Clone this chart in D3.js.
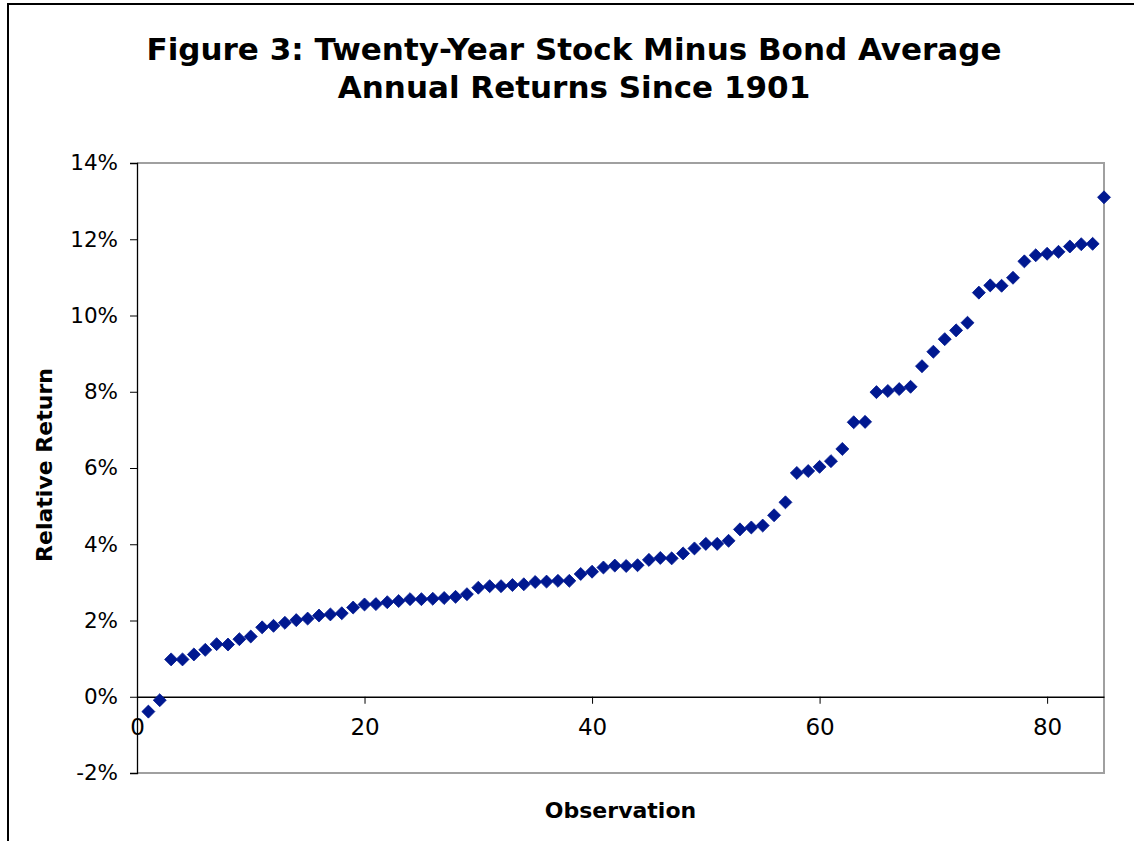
<!DOCTYPE html>
<html>
<head>
<meta charset="utf-8">
<script src="https://cdn.jsdelivr.net/npm/d3@7"></script>
<style>
  html, body { margin: 0; padding: 0; background: #fff; }
  svg { display: block; }
  text { font-family: "DejaVu Sans", Verdana, sans-serif; fill: #000; }
</style>
</head>
<body>
<svg id="chart" width="1134" height="841"></svg>
<script>
// Twenty-year stock minus bond average annual returns, sorted ascending (percent)
const observations = d3.range(1, 86);
const relativeReturn = [
  -0.39, -0.09, 0.98, 0.98, 1.11, 1.23, 1.38, 1.37, 1.51, 1.58,
  1.82, 1.86, 1.94, 2.01, 2.05, 2.13, 2.16, 2.19, 2.34, 2.42,
  2.43, 2.48, 2.51, 2.56, 2.56, 2.57, 2.59, 2.62, 2.69, 2.86,
  2.90, 2.90, 2.93, 2.95, 3.01, 3.02, 3.04, 3.04, 3.22, 3.28,
  3.39, 3.44, 3.43, 3.45, 3.59, 3.64, 3.63, 3.76, 3.89, 4.01,
  4.01, 4.09, 4.39, 4.44, 4.49, 4.76, 5.10, 5.87, 5.92, 6.03,
  6.18, 6.50, 7.20, 7.21, 7.99, 8.02, 8.07, 8.13, 8.67, 9.05,
  9.38, 9.61, 9.81, 10.60, 10.79, 10.78, 10.99, 11.42, 11.58, 11.62,
  11.67, 11.81, 11.87, 11.88, 13.10
];
const xTicks = [0, 20, 40, 60, 80];
const yTicks = [-2, 0, 2, 4, 6, 8, 10, 12, 14];
const titleLines = ["Figure 3: Twenty-Year Stock Minus Bond Average", "Annual Returns Since 1901"];

const svg = d3.select("#chart");
const plot = { left: 137, top: 163, right: 1104, bottom: 773 };

const x = d3.scaleLinear().domain([0, 85]).range([plot.left, plot.right]);
const y = d3.scaleLinear().domain([-2, 14]).range([plot.bottom, plot.top]);

// outer frame (left and top edges)
svg.append("rect")
  .attr("x", 8).attr("y", 4).attr("width", 1300).attr("height", 1000)
  .attr("fill", "none").attr("stroke", "#000").attr("stroke-width", 2);

// title
svg.append("g").selectAll("text").data(titleLines).join("text")
  .attr("x", 574).attr("y", (d, i) => 60 + i * 38)
  .attr("text-anchor", "middle")
  .style("font-weight", "bold").style("font-size", "31px")
  .text(d => d);

// plot frame: grey top, right, bottom
svg.append("path")
  .attr("d", `M${plot.left},${plot.top}H${plot.right}V${plot.bottom}H${plot.left}`)
  .attr("fill", "none").attr("stroke", "#a0a0a0").attr("stroke-width", 2);

// y axis
const yAxis = d3.axisLeft(y).tickValues(yTicks).tickSize(7).tickPadding(12)
  .tickFormat(d => d + "%");
const gy = svg.append("g").attr("transform", `translate(${plot.left},0)`).call(yAxis);
gy.select(".domain").attr("stroke", "#000").attr("stroke-width", 1.3);
gy.selectAll(".tick line").attr("stroke", "#000");
gy.selectAll(".tick text").style("font-size", "21.5px").style("font-family", '"DejaVu Sans", sans-serif');

// x axis crossing at zero
const xAxis = d3.axisBottom(x).tickValues(xTicks).tickSize(7).tickPadding(15)
  .tickSizeOuter(0);
const gx = svg.append("g").attr("transform", `translate(0,${y(0)})`).call(xAxis);
gx.select(".domain").attr("stroke", "#000").attr("stroke-width", 1.3);
gx.selectAll(".tick line").attr("stroke", "#000");
gx.selectAll(".tick text").style("font-size", "23px").style("font-family", '"DejaVu Sans", sans-serif');

// axis titles
svg.append("text")
  .attr("x", (plot.left + plot.right) / 2).attr("y", 818)
  .attr("text-anchor", "middle")
  .style("font-weight", "bold").style("font-size", "22px")
  .text("Observation");
svg.append("text")
  .attr("transform", `translate(52,${(plot.top + plot.bottom) / 2 - 3}) rotate(-90)`)
  .attr("text-anchor", "middle")
  .style("font-weight", "bold").style("font-size", "22px")
  .text("Relative Return");

// diamond markers
const diamond = d3.symbol().type(d3.symbolDiamond2).size(108);
svg.append("g").selectAll("path").data(observations).join("path")
  .attr("transform", (d, i) => `translate(${x(d)},${y(relativeReturn[i])})`)
  .attr("d", diamond)
  .attr("fill", "#001890")
  .attr("stroke", "#001890").attr("stroke-width", 0.8).attr("stroke-linejoin", "round");
</script>
</body>
</html>
